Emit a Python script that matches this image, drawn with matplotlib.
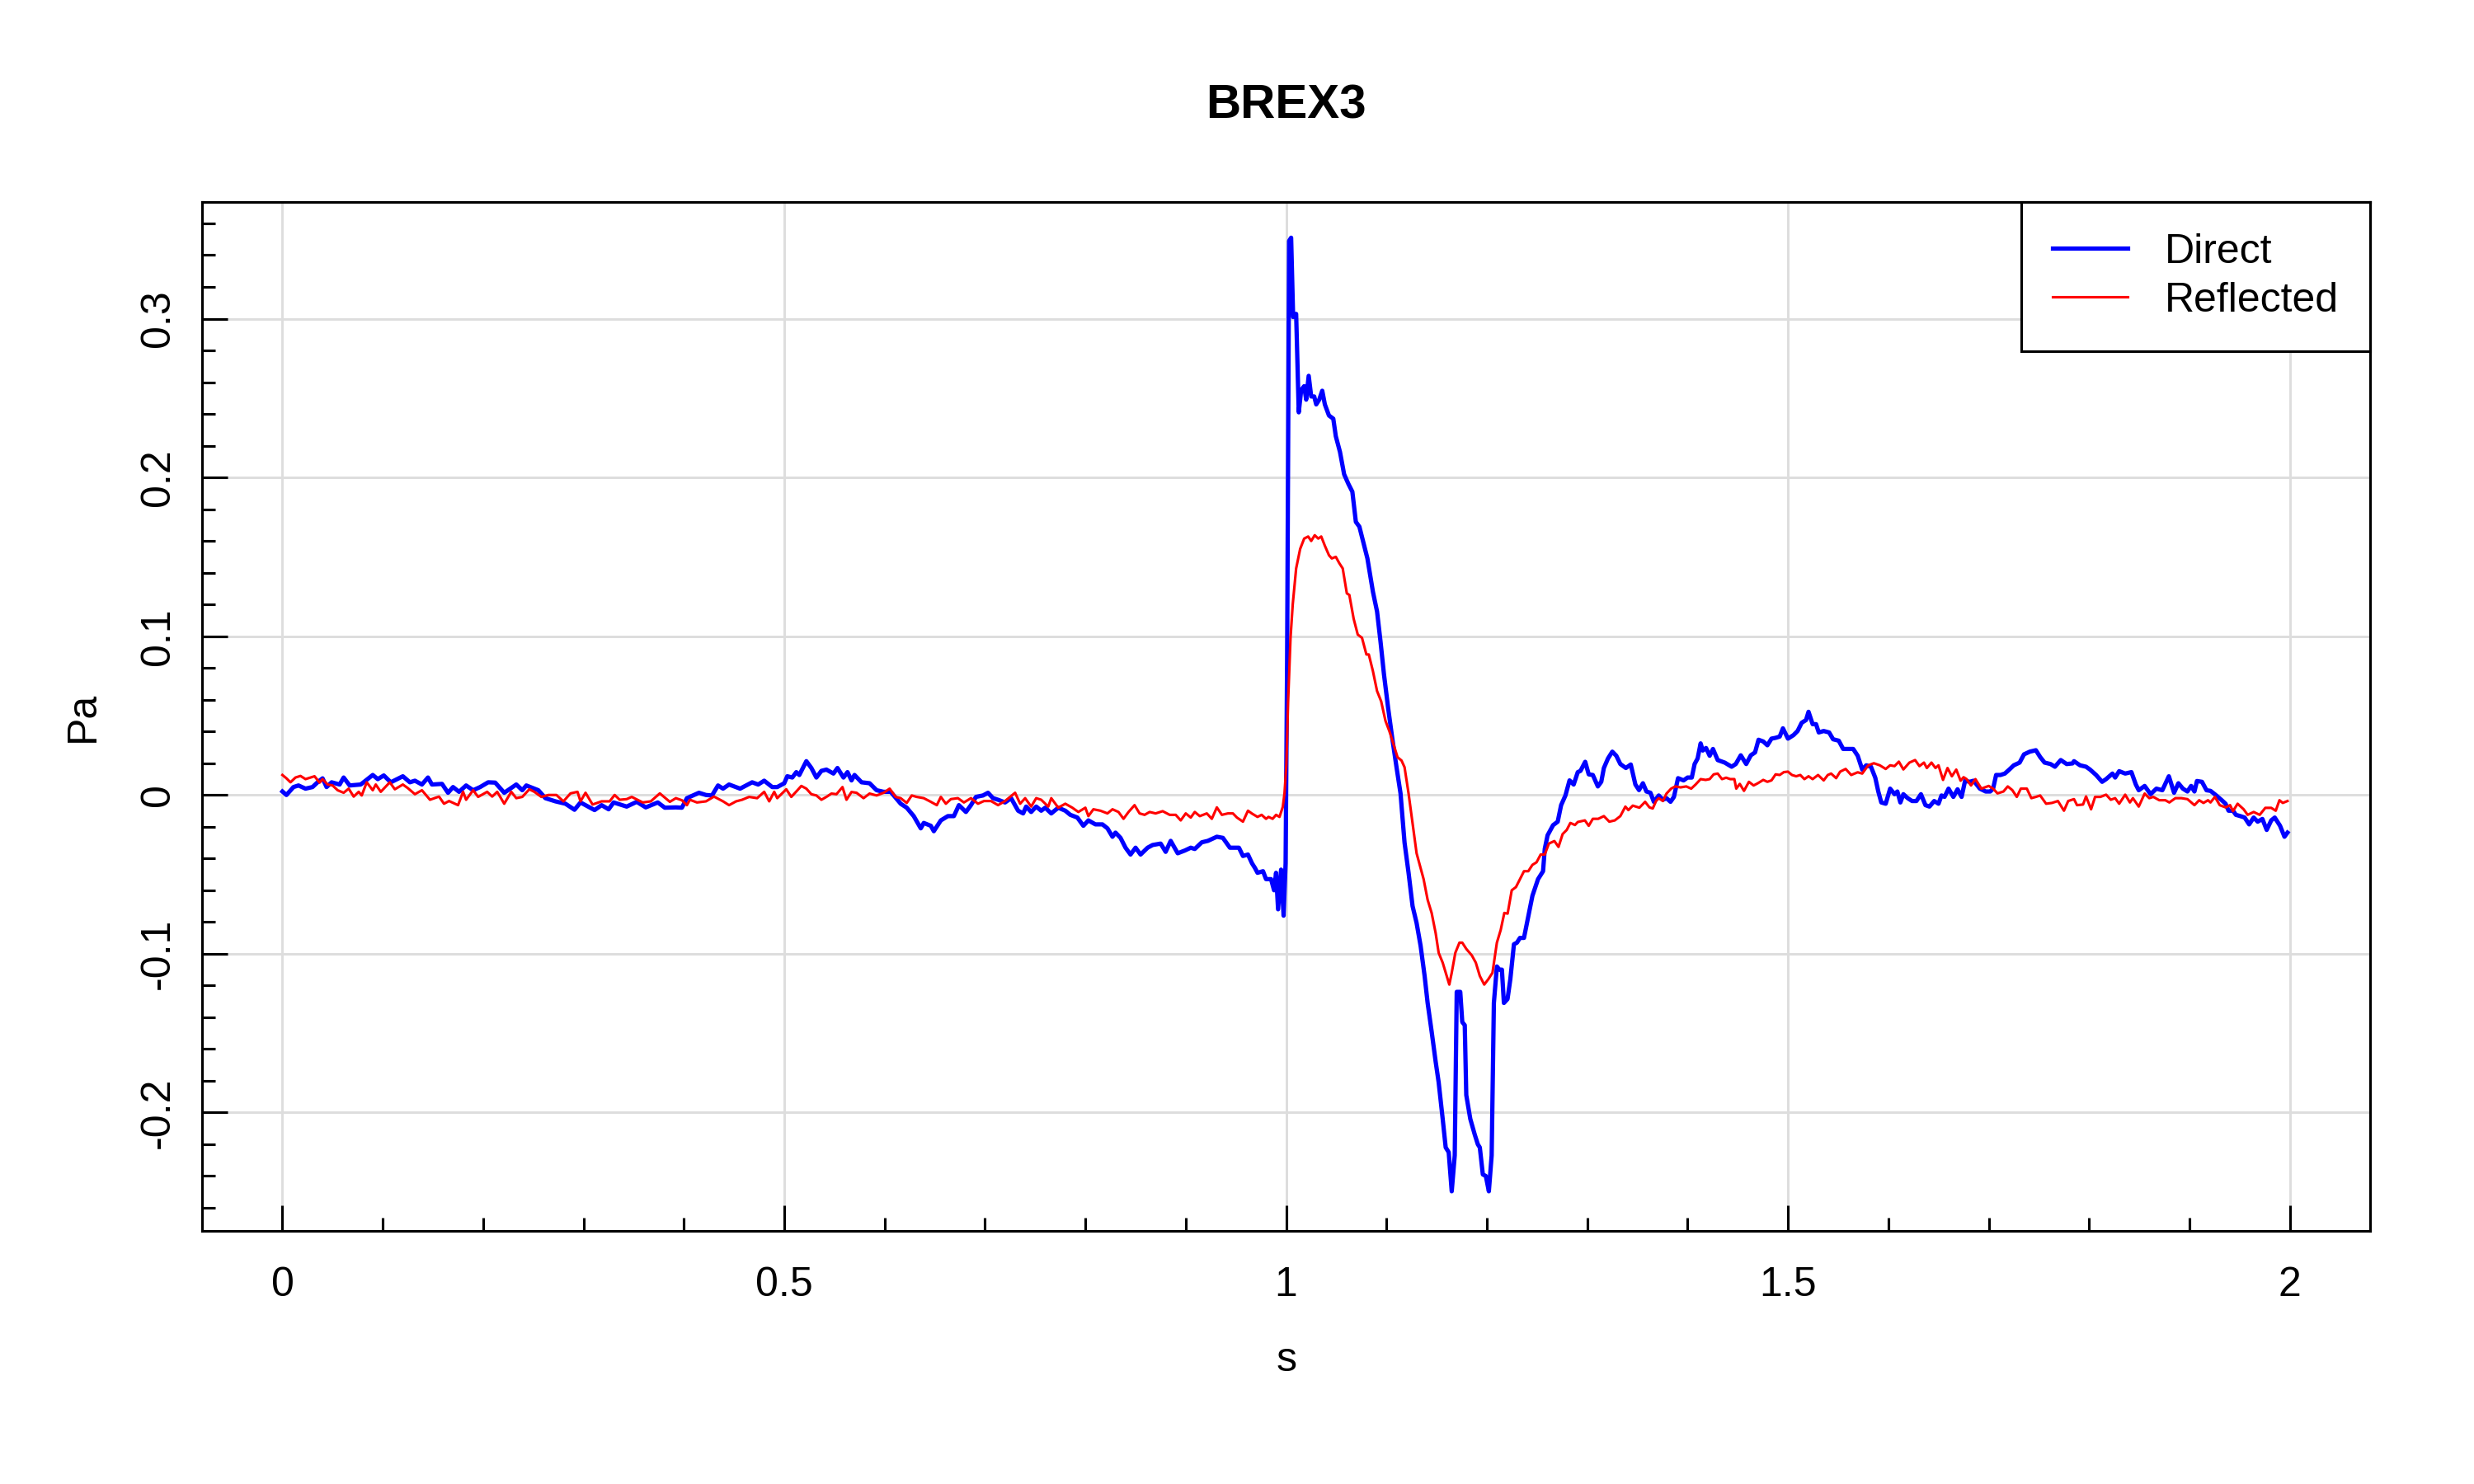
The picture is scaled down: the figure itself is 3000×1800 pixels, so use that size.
import matplotlib
matplotlib.use("Agg")
import matplotlib.pyplot as plt

# ---------------- data (time in s, pressure in Pa) ----------------
direct = [
    (0.000, 0.0022), (0.004, 0.0000), (0.011, 0.0050), (0.016, 0.0060), (0.023, 0.0040),
    (0.030, 0.0050), (0.035, 0.0080), (0.040, 0.0105), (0.044, 0.0050), (0.049, 0.0080),
    (0.057, 0.0066), (0.061, 0.0110), (0.067, 0.0060), (0.078, 0.0066), (0.090, 0.0126),
    (0.095, 0.0100), (0.101, 0.0123), (0.108, 0.0080), (0.120, 0.0118), (0.127, 0.0080),
    (0.132, 0.0090), (0.139, 0.0066), (0.145, 0.0110), (0.149, 0.0066), (0.159, 0.0070),
    (0.165, 0.0014), (0.170, 0.0050), (0.176, 0.0020), (0.183, 0.0060), (0.190, 0.0030),
    (0.197, 0.0050), (0.205, 0.0080), (0.212, 0.0078), (0.221, 0.0014), (0.233, 0.0066),
    (0.239, 0.0030), (0.243, 0.0060), (0.255, 0.0030), (0.262, -0.0020), (0.272, -0.0040),
    (0.282, -0.0055), (0.291, -0.0093), (0.297, -0.0047), (0.311, -0.0095), (0.318, -0.0064),
    (0.325, -0.0090), (0.330, -0.0047), (0.343, -0.0073), (0.353, -0.0043), (0.362, -0.0078),
    (0.374, -0.0047), (0.381, -0.0080), (0.392, -0.0078), (0.398, -0.0080), (0.403, -0.0020),
    (0.415, 0.0014), (0.422, 0.0000), (0.428, -0.0003), (0.434, 0.0060), (0.439, 0.0040),
    (0.445, 0.0066), (0.456, 0.0040), (0.468, 0.0080), (0.474, 0.0066), (0.480, 0.0090),
    (0.488, 0.0050), (0.493, 0.0050), (0.500, 0.0074), (0.503, 0.0118), (0.508, 0.0110),
    (0.512, 0.0144), (0.515, 0.0126), (0.522, 0.0213), (0.527, 0.0170), (0.532, 0.0110),
    (0.537, 0.0152), (0.542, 0.0160), (0.549, 0.0135), (0.553, 0.0170), (0.559, 0.0110),
    (0.563, 0.0144), (0.567, 0.0092), (0.570, 0.0126), (0.577, 0.0080), (0.585, 0.0074),
    (0.592, 0.0030), (0.599, 0.0020), (0.606, 0.0020), (0.616, -0.0055), (0.622, -0.0080),
    (0.629, -0.0133), (0.636, -0.0210), (0.639, -0.0176), (0.646, -0.0194), (0.649, -0.0228),
    (0.656, -0.0160), (0.663, -0.0133), (0.669, -0.0133), (0.674, -0.0064), (0.681, -0.0107),
    (0.686, -0.0064), (0.691, -0.0012), (0.698, -0.0003), (0.703, 0.0014), (0.708, -0.0020),
    (0.713, -0.0030), (0.720, -0.0047), (0.726, -0.0020), (0.733, -0.0099), (0.738, -0.0116),
    (0.741, -0.0073), (0.746, -0.0107), (0.751, -0.0073), (0.756, -0.0099), (0.760, -0.0080),
    (0.766, -0.0116), (0.773, -0.0080), (0.780, -0.0099), (0.785, -0.0125), (0.792, -0.0142),
    (0.798, -0.0194), (0.803, -0.0160), (0.810, -0.0185), (0.817, -0.0185), (0.822, -0.0210),
    (0.827, -0.0263), (0.830, -0.0237), (0.835, -0.0270), (0.840, -0.0332), (0.845, -0.0375),
    (0.850, -0.0332), (0.855, -0.0375), (0.862, -0.0332), (0.867, -0.0315), (0.875, -0.0306),
    (0.880, -0.0358), (0.885, -0.0289), (0.892, -0.0367), (0.899, -0.0350), (0.905, -0.0332),
    (0.909, -0.0340), (0.916, -0.0298), (0.922, -0.0289), (0.931, -0.0263), (0.937, -0.0270),
    (0.944, -0.0332), (0.953, -0.0332), (0.957, -0.0384), (0.962, -0.0375), (0.966, -0.0430),
    (0.969, -0.0460), (0.9715, -0.0490), (0.977, -0.0480), (0.980, -0.0530), (0.985, -0.0530),
    (0.988, -0.0600), (0.990, -0.0490), (0.992, -0.0720), (0.995, -0.0470), (0.9975, -0.0760),
    (0.9995, -0.0430), (1.001, 0.0840), (1.003, 0.3490), (1.005, 0.3510), (1.007, 0.3010),
    (1.010, 0.3030), (1.0126, 0.2410), (1.015, 0.2550), (1.018, 0.2575), (1.020, 0.2490),
    (1.0225, 0.2640), (1.025, 0.2510), (1.028, 0.2510), (1.030, 0.2460), (1.033, 0.2490),
    (1.036, 0.2546), (1.0386, 0.2460), (1.0427, 0.2390), (1.047, 0.2370), (1.0495, 0.2260),
    (1.0537, 0.2160), (1.0578, 0.2020), (1.062, 0.1960), (1.066, 0.1910), (1.0695, 0.1720),
    (1.073, 0.1690), (1.077, 0.1590), (1.081, 0.1490), (1.0865, 0.1280), (1.0906, 0.1156),
    (1.094, 0.0970), (1.0975, 0.0760), (1.1016, 0.0550), (1.1057, 0.0360), (1.110, 0.0175),
    (1.114, 0.0010), (1.118, -0.0300), (1.122, -0.0490), (1.126, -0.0700), (1.130, -0.0806),
    (1.134, -0.0950), (1.138, -0.1140), (1.141, -0.1310), (1.145, -0.1490), (1.149, -0.1680),
    (1.152, -0.1810), (1.156, -0.2040), (1.159, -0.2220), (1.162, -0.2250), (1.165, -0.2496),
    (1.168, -0.2270), (1.170, -0.1240), (1.1735, -0.1240), (1.1755, -0.1430), (1.178, -0.1450),
    (1.1795, -0.1890), (1.1835, -0.2040), (1.188, -0.2140), (1.191, -0.2200), (1.193, -0.2220),
    (1.196, -0.2390), (1.199, -0.2400), (1.202, -0.2496), (1.2048, -0.2270), (1.207, -0.1310),
    (1.210, -0.1080), (1.2125, -0.1100), (1.215, -0.1100), (1.217, -0.1310), (1.2206, -0.1285),
    (1.2234, -0.1160), (1.227, -0.0940), (1.230, -0.0930), (1.233, -0.0900), (1.237, -0.0900),
    (1.240, -0.0806), (1.2454, -0.0635), (1.251, -0.0530), (1.256, -0.0480), (1.2577, -0.0340),
    (1.2605, -0.0254), (1.266, -0.0190), (1.2706, -0.0168), (1.274, -0.0064), (1.2783, -0.0003),
    (1.2824, 0.0092), (1.2865, 0.0066), (1.2906, 0.0144), (1.2933, 0.0152), (1.298, 0.0209),
    (1.3015, 0.0130), (1.3056, 0.0126), (1.3106, 0.0054), (1.314, 0.0083), (1.3166, 0.0170),
    (1.3207, 0.0230), (1.325, 0.0273), (1.329, 0.0247), (1.333, 0.0195), (1.3385, 0.0170),
    (1.3434, 0.0192), (1.348, 0.0066), (1.3516, 0.0031), (1.3555, 0.0074), (1.359, 0.0022),
    (1.363, 0.0014), (1.3664, -0.0043), (1.3713, -0.0003), (1.3754, -0.0030), (1.379, -0.0020),
    (1.383, -0.0043), (1.3864, -0.0012), (1.3905, 0.0106), (1.396, 0.0092), (1.400, 0.0110),
    (1.4042, 0.0110), (1.407, 0.0195), (1.410, 0.0230), (1.413, 0.0325), (1.4151, 0.0280),
    (1.4184, 0.0296), (1.422, 0.0247), (1.4253, 0.0290), (1.430, 0.0220), (1.437, 0.0204),
    (1.4439, 0.0178), (1.448, 0.0195), (1.453, 0.0250), (1.4584, 0.0195), (1.463, 0.0250),
    (1.4672, 0.0268), (1.4707, 0.0348), (1.4754, 0.0337), (1.4795, 0.0313), (1.4836, 0.0355),
    (1.4877, 0.0360), (1.4918, 0.0368), (1.495, 0.0420), (1.500, 0.0355), (1.5055, 0.0377),
    (1.5096, 0.0403), (1.5137, 0.0455), (1.518, 0.0472), (1.5205, 0.0524), (1.5246, 0.0446),
    (1.528, 0.0446), (1.5307, 0.0394), (1.5356, 0.0403), (1.541, 0.0394), (1.545, 0.0351),
    (1.5506, 0.0342), (1.555, 0.0290), (1.5589, 0.0290), (1.565, 0.0290), (1.5695, 0.0247),
    (1.574, 0.0160), (1.578, 0.0187), (1.5827, 0.0178), (1.587, 0.0109), (1.590, 0.0022),
    (1.593, -0.0047), (1.5974, -0.0055), (1.6018, 0.0040), (1.6062, 0.0005), (1.609, 0.0022),
    (1.612, -0.0047), (1.615, 0.0005), (1.6193, -0.0020), (1.6237, -0.0038), (1.628, -0.0038),
    (1.6325, 0.0005), (1.637, -0.0064), (1.641, -0.0073), (1.6457, -0.0038), (1.650, -0.0055),
    (1.653, -0.0003), (1.656, -0.0012), (1.660, 0.0040), (1.6648, -0.0012), (1.669, 0.0036),
    (1.673, -0.0012), (1.6765, 0.0090), (1.681, 0.0083), (1.685, 0.0090), (1.6912, 0.0040),
    (1.697, 0.0022), (1.7015, 0.0022), (1.7044, 0.0040), (1.7074, 0.0126), (1.7117, 0.0126),
    (1.7161, 0.0135), (1.7205, 0.0160), (1.725, 0.0187), (1.7308, 0.0204), (1.7352, 0.0256),
    (1.741, 0.0273), (1.747, 0.0282), (1.7513, 0.0239), (1.7557, 0.0204), (1.7616, 0.0195),
    (1.766, 0.0178), (1.7718, 0.0220), (1.7777, 0.0195), (1.7836, 0.0199), (1.785, 0.0213),
    (1.791, 0.0187), (1.797, 0.0178), (1.801, 0.0160), (1.807, 0.0126), (1.813, 0.0083),
    (1.817, 0.0100), (1.8233, 0.0135), (1.826, 0.0110), (1.830, 0.0150), (1.836, 0.0135),
    (1.8422, 0.0144), (1.8466, 0.0066), (1.8495, 0.0030), (1.8554, 0.0057), (1.8613, 0.0005),
    (1.8671, 0.0040), (1.873, 0.0030), (1.8795, 0.0118), (1.8847, 0.0014), (1.889, 0.0074),
    (1.8935, 0.0040), (1.898, 0.0022), (1.9017, 0.0057), (1.905, 0.0022), (1.9075, 0.0088),
    (1.9125, 0.0083), (1.917, 0.0030), (1.921, 0.0026), (1.9258, 0.0002), (1.9317, -0.0030),
    (1.936, -0.0055), (1.939, -0.0099), (1.9434, -0.0099), (1.9463, -0.0125), (1.9507, -0.0133),
    (1.955, -0.0142), (1.9595, -0.0185), (1.964, -0.0142), (1.968, -0.0168), (1.9727, -0.0151),
    (1.977, -0.0220), (1.9815, -0.0160), (1.985, -0.0142), (1.9903, -0.0194), (1.9947, -0.0263),
    (1.9977, -0.0237),
]

reflected = [
    (0.000, 0.0126), (0.004, 0.0105), (0.008, 0.0080), (0.013, 0.0110), (0.018, 0.0120),
    (0.023, 0.0100), (0.032, 0.0118), (0.037, 0.0078), (0.040, 0.0100), (0.045, 0.0066),
    (0.050, 0.0060), (0.055, 0.0030), (0.061, 0.0014), (0.066, 0.0040), (0.071, -0.0010),
    (0.076, 0.0020), (0.079, -0.0003), (0.084, 0.0080), (0.090, 0.0030), (0.093, 0.0066),
    (0.098, 0.0020), (0.107, 0.0080), (0.112, 0.0036), (0.120, 0.0066), (0.125, 0.0043),
    (0.132, 0.0005), (0.139, 0.0030), (0.147, -0.0030), (0.156, -0.0010), (0.161, -0.0055),
    (0.166, -0.0038), (0.175, -0.0064), (0.180, 0.0020), (0.183, -0.0030), (0.190, 0.0030),
    (0.195, -0.0012), (0.204, 0.0020), (0.209, -0.0010), (0.214, 0.0020), (0.221, -0.0055),
    (0.228, 0.0020), (0.233, -0.0020), (0.239, -0.0012), (0.246, 0.0036), (0.251, 0.0020),
    (0.258, -0.0012), (0.265, 0.0000), (0.273, 0.0000), (0.280, -0.0040), (0.287, 0.0010),
    (0.294, 0.0020), (0.297, -0.0040), (0.302, 0.0014), (0.309, -0.0060), (0.318, -0.0040),
    (0.326, -0.0040), (0.331, 0.0000), (0.336, -0.0030), (0.343, -0.0026), (0.348, -0.0012),
    (0.359, -0.0047), (0.367, -0.0040), (0.376, 0.0010), (0.386, -0.0043), (0.392, -0.0020),
    (0.398, -0.0033), (0.403, -0.0064), (0.406, -0.0030), (0.413, -0.0047), (0.422, -0.0040),
    (0.430, -0.0010), (0.439, -0.0040), (0.445, -0.0064), (0.452, -0.0040), (0.458, -0.0030),
    (0.465, -0.0012), (0.473, -0.0020), (0.480, 0.0020), (0.485, -0.0040), (0.490, 0.0020),
    (0.493, -0.0020), (0.502, 0.0036), (0.507, -0.0012), (0.512, 0.0022), (0.517, 0.0057),
    (0.522, 0.0040), (0.527, 0.0005), (0.532, -0.0003), (0.537, -0.0030), (0.542, -0.0012),
    (0.547, 0.0009), (0.552, 0.0005), (0.558, 0.0050), (0.562, -0.0030), (0.567, 0.0019),
    (0.572, 0.0014), (0.579, -0.0020), (0.585, 0.0009), (0.592, -0.0003), (0.599, 0.0014),
    (0.605, 0.0040), (0.611, -0.0012), (0.616, -0.0020), (0.622, -0.0050), (0.627, -0.0003),
    (0.632, -0.0012), (0.639, -0.0020), (0.646, -0.0043), (0.652, -0.0064), (0.656, -0.0012),
    (0.661, -0.0055), (0.666, -0.0026), (0.673, -0.0020), (0.679, -0.0047), (0.686, -0.0020),
    (0.693, -0.0055), (0.699, -0.0038), (0.706, -0.0038), (0.713, -0.0064), (0.720, -0.0038),
    (0.725, -0.0012), (0.730, 0.0014), (0.735, -0.0055), (0.740, -0.0020), (0.746, -0.0073),
    (0.751, -0.0020), (0.756, -0.0030), (0.763, -0.0073), (0.766, -0.0020), (0.773, -0.0080),
    (0.780, -0.0055), (0.787, -0.0080), (0.793, -0.0107), (0.800, -0.0080), (0.803, -0.0133),
    (0.808, -0.0090), (0.815, -0.0099), (0.822, -0.0116), (0.827, -0.0090), (0.833, -0.0107),
    (0.838, -0.0150), (0.843, -0.0107), (0.849, -0.0064), (0.854, -0.0116), (0.859, -0.0125),
    (0.864, -0.0107), (0.870, -0.0116), (0.877, -0.0102), (0.884, -0.0125), (0.890, -0.0125),
    (0.895, -0.0160), (0.900, -0.0116), (0.905, -0.0142), (0.909, -0.0107), (0.914, -0.0133),
    (0.921, -0.0116), (0.926, -0.0150), (0.931, -0.0078), (0.936, -0.0125), (0.942, -0.0116),
    (0.947, -0.0116), (0.951, -0.0142), (0.957, -0.0168), (0.962, -0.0099), (0.966, -0.0117),
    (0.9715, -0.0138), (0.9756, -0.0125), (0.980, -0.0150), (0.9825, -0.0138), (0.9866, -0.0150),
    (0.990, -0.0125), (0.9934, -0.0138), (0.9967, -0.0075), (0.9984, 0.0010), (1.0003, 0.0196),
    (1.002, 0.0590), (1.0044, 0.0990), (1.0066, 0.1200), (1.010, 0.1427), (1.014, 0.1550),
    (1.018, 0.1615), (1.022, 0.1628), (1.025, 0.1600), (1.0285, 0.1636), (1.032, 0.1615),
    (1.035, 0.1628), (1.0386, 0.1570), (1.0427, 0.1510), (1.0455, 0.1490), (1.0495, 0.1500),
    (1.053, 0.1460), (1.0564, 0.1427), (1.0605, 0.1270), (1.063, 0.1260), (1.0673, 0.1110),
    (1.0714, 0.1010), (1.0756, 0.0990), (1.080, 0.0885), (1.0824, 0.0885), (1.0865, 0.0780),
    (1.0906, 0.0655), (1.0947, 0.0590), (1.099, 0.0467), (1.103, 0.0400), (1.107, 0.0320),
    (1.111, 0.0238), (1.115, 0.0217), (1.118, 0.0175), (1.122, 0.0010), (1.126, -0.0180),
    (1.130, -0.0367), (1.1336, -0.0450), (1.137, -0.0530), (1.141, -0.0660), (1.145, -0.0743),
    (1.149, -0.0870), (1.152, -0.0994), (1.156, -0.1056), (1.160, -0.1140), (1.1626, -0.1194),
    (1.165, -0.1120), (1.1686, -0.0994), (1.1727, -0.0930), (1.1755, -0.0930), (1.1796, -0.0970),
    (1.185, -0.1010), (1.189, -0.1056), (1.193, -0.1140), (1.1974, -0.1194), (1.2015, -0.1160),
    (1.2056, -0.1120), (1.210, -0.0930), (1.2138, -0.0850), (1.2174, -0.0743), (1.2207, -0.0747),
    (1.2248, -0.0600), (1.229, -0.0580), (1.233, -0.0530), (1.237, -0.0480), (1.2413, -0.0480),
    (1.2454, -0.0440), (1.2495, -0.0424), (1.2536, -0.0375), (1.2577, -0.0375), (1.2618, -0.0306),
    (1.2673, -0.0290), (1.2714, -0.0327), (1.2755, -0.0246), (1.2796, -0.0220), (1.2832, -0.0176),
    (1.2878, -0.0189), (1.2906, -0.0170), (1.2977, -0.0160), (1.3015, -0.0194), (1.3056, -0.0150),
    (1.311, -0.0150), (1.3166, -0.0133), (1.322, -0.0168), (1.3275, -0.0160), (1.333, -0.0133),
    (1.338, -0.0073), (1.341, -0.0095), (1.3454, -0.0067), (1.352, -0.0080), (1.3577, -0.0043),
    (1.362, -0.0078), (1.3653, -0.0085), (1.3686, -0.0038), (1.3713, -0.0020), (1.3754, -0.0038),
    (1.379, 0.0009), (1.3836, 0.0040), (1.3877, 0.0054), (1.393, 0.0048), (1.3987, 0.0054),
    (1.4036, 0.0040), (1.408, 0.0066), (1.413, 0.0100), (1.418, 0.0095), (1.422, 0.0100),
    (1.426, 0.0130), (1.430, 0.0135), (1.4343, 0.0100), (1.4384, 0.0109), (1.4425, 0.0100),
    (1.4466, 0.0100), (1.4485, 0.0040), (1.452, 0.0070), (1.4562, 0.0026), (1.4611, 0.0083),
    (1.4658, 0.0060), (1.470, 0.0074), (1.4754, 0.0095), (1.4795, 0.0083), (1.4836, 0.0092),
    (1.4877, 0.0130), (1.4918, 0.0126), (1.4959, 0.0144), (1.500, 0.0147), (1.504, 0.0126),
    (1.5082, 0.0118), (1.5123, 0.0126), (1.5164, 0.0100), (1.5205, 0.0118), (1.5246, 0.0100),
    (1.530, 0.0126), (1.5356, 0.0092), (1.5397, 0.0126), (1.543, 0.0135), (1.548, 0.0106),
    (1.552, 0.0147), (1.5575, 0.0164), (1.563, 0.0126), (1.5695, 0.0143), (1.574, 0.0135),
    (1.580, 0.0187), (1.5856, 0.0200), (1.5915, 0.0187), (1.5974, 0.0164), (1.6018, 0.0187),
    (1.6062, 0.0182), (1.6105, 0.0210), (1.615, 0.0161), (1.621, 0.0204), (1.6267, 0.0220),
    (1.631, 0.0182), (1.6355, 0.0204), (1.6384, 0.0170), (1.643, 0.0204), (1.647, 0.0170),
    (1.650, 0.0187), (1.6545, 0.0095), (1.659, 0.0170), (1.6633, 0.0118), (1.6677, 0.0160),
    (1.672, 0.0090), (1.675, 0.0112), (1.678, 0.0100), (1.6824, 0.0060), (1.6868, 0.0100),
    (1.6927, 0.0040), (1.700, 0.0057), (1.7044, 0.0040), (1.7088, 0.0010), (1.7147, 0.0022),
    (1.719, 0.0054), (1.7235, 0.0031), (1.728, -0.0012), (1.732, 0.0040), (1.738, 0.0040),
    (1.7425, -0.0020), (1.747, -0.0012), (1.7513, -0.0003), (1.7572, -0.0055), (1.763, -0.0050),
    (1.769, -0.0038), (1.775, -0.0099), (1.7792, -0.0038), (1.785, -0.0026), (1.788, -0.0064),
    (1.794, -0.0060), (1.797, -0.0009), (1.802, -0.0090), (1.806, -0.0012), (1.8113, -0.0012),
    (1.817, 0.0002), (1.8216, -0.0030), (1.826, -0.0020), (1.830, -0.0055), (1.836, 0.0002),
    (1.8407, -0.0047), (1.8437, -0.0020), (1.8495, -0.0073), (1.8554, 0.0009), (1.860, -0.0020),
    (1.864, -0.0012), (1.870, -0.0033), (1.876, -0.0033), (1.880, -0.0047), (1.886, -0.0020),
    (1.892, -0.0020), (1.898, -0.0026), (1.905, -0.0064), (1.9097, -0.0033), (1.914, -0.0050),
    (1.9185, -0.0033), (1.921, -0.0047), (1.9254, -0.0012), (1.9302, -0.0064), (1.936, -0.0078),
    (1.9405, -0.0064), (1.9434, -0.0102), (1.948, -0.0055), (1.954, -0.0090), (1.958, -0.0125),
    (1.964, -0.0107), (1.970, -0.0125), (1.9756, -0.0081), (1.9815, -0.0081), (1.986, -0.0099),
    (1.9897, -0.0033), (1.993, -0.0050), (1.9977, -0.0038),
]

series_labels = ["Direct", "Reflected"]
title = "BREX3"
x_label = "s"
y_label = "Pa"
x_major = [0, 0.5, 1, 1.5, 2]
x_major_labels = ["0", "0.5", "1", "1.5", "2"]
x_minor = [0.1 * i for i in range(21)]
y_major = [-0.2, -0.1, 0, 0.1, 0.2, 0.3]
y_major_labels = ["-0.2", "-0.1", "0", "0.1", "0.2", "0.3"]
y_minor = [-0.26 + 0.02 * i for i in range(32)]

# ---------------- style ----------------
plt.rcParams["font.family"] = ["Liberation Sans", "DejaVu Sans"]
plt.rcParams["axes.unicode_minus"] = False

fig = plt.figure(figsize=(10, 6), dpi=300)
ax = fig.add_axes([0.0817, 0.1706, 0.8763, 0.6933])

dt, dv = zip(*direct)
rt, rv = zip(*reflected)
ax.plot(dt, dv, color="#0000FF", lw=1.25, label=series_labels[0], zorder=3)
ax.plot(rt, rv, color="#FF0000", lw=0.75, label=series_labels[1], zorder=4)

ax.set_xlim(-0.08, 2.08)
ax.set_ylim(-0.2745, 0.3735)

ax.set_xticks(x_major)
ax.set_xticklabels(x_major_labels)
ax.set_xticks(x_minor, minor=True)
ax.set_yticks(y_major)
ax.set_yticklabels(y_major_labels, rotation=90, va="center")
ax.set_yticks(y_minor, minor=True)

ax.set_axisbelow(True)
ax.grid(True, which="major", color="#DDDDDD", lw=0.7, zorder=0)

ax.tick_params(which="both", direction="in", top=False, right=False,
               width=0.75, color="black", labelsize=12)
ax.tick_params(which="major", length=7.5)
ax.tick_params(which="minor", length=3.8)
ax.tick_params(axis="x", which="major", pad=10.3)
ax.tick_params(axis="y", which="major", pad=7.3)

for sp in ax.spines.values():
    sp.set_linewidth(0.75)
    sp.set_color("black")

ax.set_xlabel(x_label, fontsize=12)
ax.xaxis.set_label_coords(0.5, -0.1362)
ax.xaxis.label.set_va("baseline")

ax.set_ylabel(y_label, fontsize=12)
ax.yaxis.set_label_coords(-0.0498, 0.5)
ax.yaxis.label.set_va("baseline")

fig.text(0.5198, 1 - 143 / 1800, title, ha="center", va="baseline",
         fontsize=14, fontweight="bold")

leg = ax.legend(loc="upper right", borderaxespad=0, fancybox=False,
                edgecolor="black", framealpha=1, fontsize=12,
                borderpad=0.76, handlelength=1.82, handletextpad=0.9,
                labelspacing=0.26)
leg.get_frame().set_linewidth(0.75)

fig.savefig("out.png", dpi=300)
